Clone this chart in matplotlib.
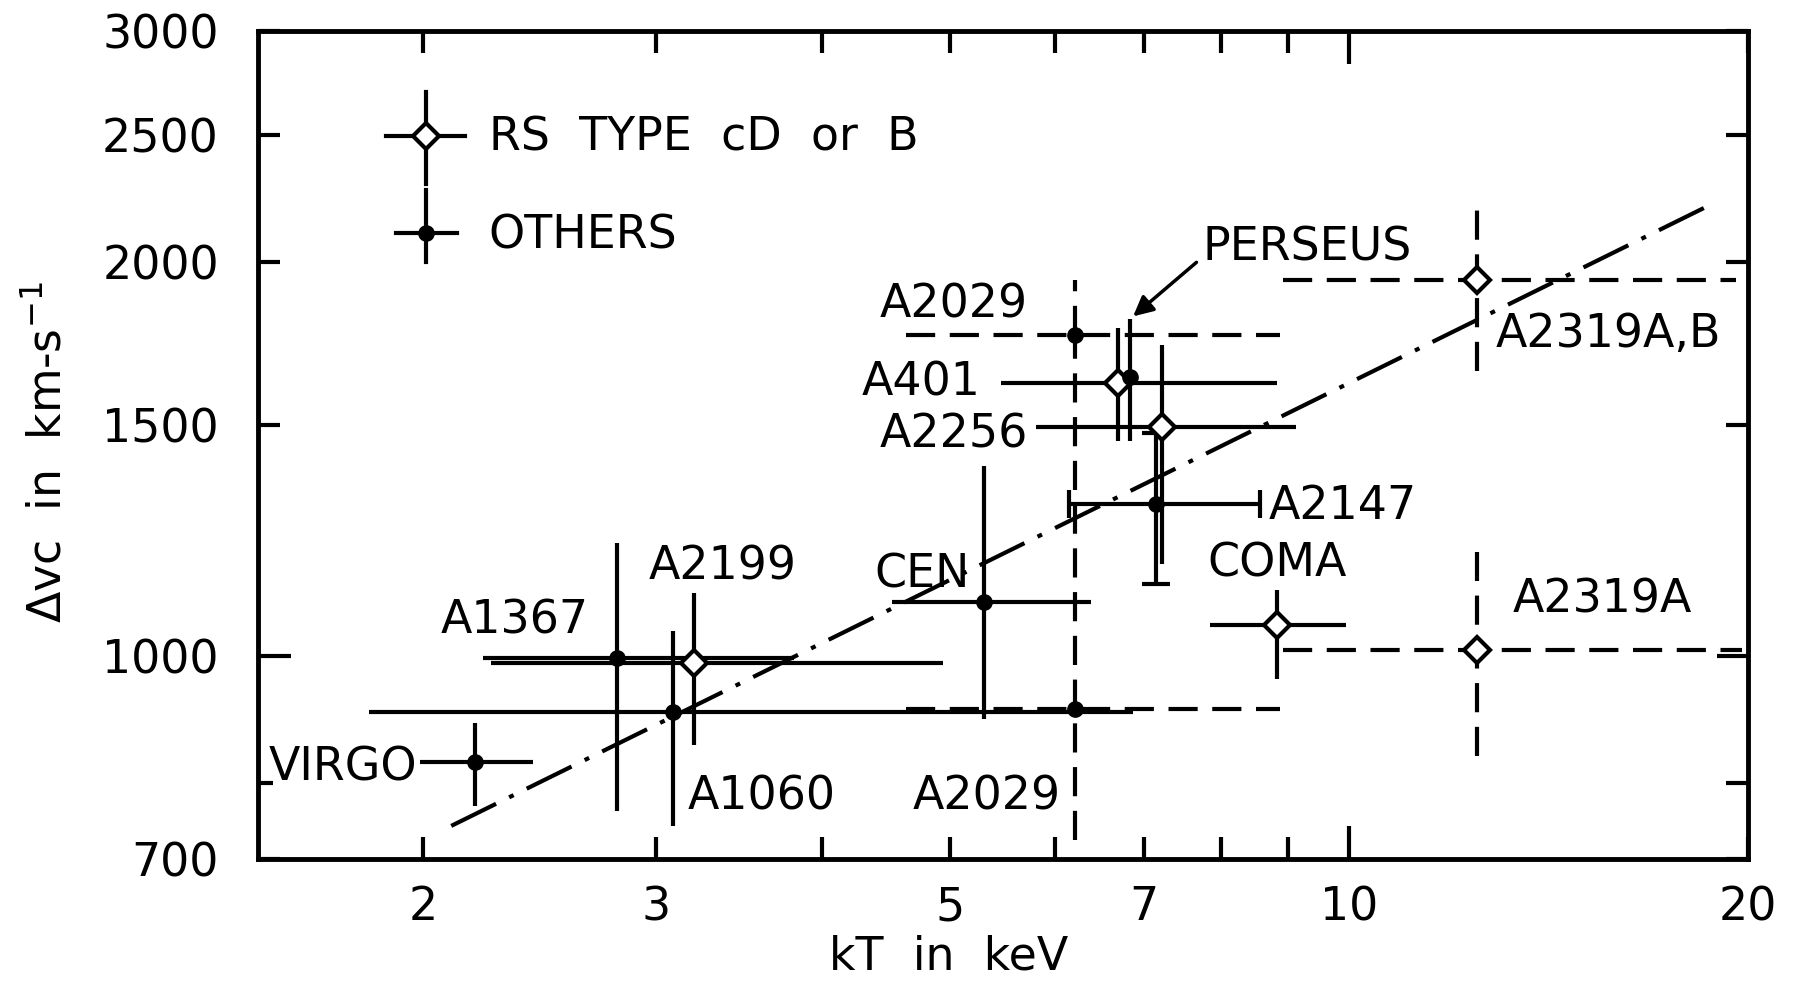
import matplotlib
matplotlib.use('Agg')
from matplotlib import pyplot as plt
from matplotlib.ticker import NullLocator

plt.rcParams['font.family'] = ['DejaVu Sans']

# clusters with solid error bars
names = ['VIRGO', 'A1367', 'A2199', 'A1060', 'CEN', 'A401', 'PERSEUS', 'A2256', 'A2147', 'COMA']
kt = [2.19, 2.80, 3.20, 3.09, 5.30, 6.69, 6.83, 7.22, 7.15, 8.82]
kt_lo = [1.99, 2.22, 2.25, 1.82, 4.52, 5.46, 6.83, 5.80, 6.15, 7.85]
kt_hi = [2.42, 3.81, 4.94, 6.87, 6.38, 8.82, 6.83, 9.12, 8.56, 9.94]
dv = [830, 996, 988, 906, 1100, 1616, 1633, 1496, 1306, 1057]
dv_lo = [769, 762, 855, 742, 895, 1460, 1460, 1176, 1136, 961]
dv_hi = [889, 1220, 1118, 1046, 1397, 1780, 1809, 1727, 1480, 1123]
is_cd = [False, False, True, False, False, True, False, True, False, True]
capped = [False, False, False, False, False, False, False, False, True, False]

# clusters with two possible values (dashed bars)
dash_names = ['A2029', 'A2029', 'A2319A,B', 'A2319A']
dash_kt = [6.21, 6.21, 12.5, 12.5]
dash_dv = [1760, 912, 1938, 1011]
dash_kt_lo = [4.63, 4.63, 8.91, 8.91]
dash_kt_hi = [8.87, 8.87, 19.6, 19.8]
dash_dv_lo = [1760, 724, 1652, 839]
dash_dv_hi = [1938, 1760, 2201, 1200]
dash_cd = [False, False, True, True]

# dv ~ kT^(1/2) line
fit_kt = [2.10, 18.95]
fit_dv = [742, 2223]

xticks = [2, 3, 4, 5, 6, 7, 8, 9, 10, 20]
xticklabels = ['2', '3', '', '5', '', '7', '', '', '10', '20']
yticks = [700, 800, 1000, 1500, 2000, 2500, 3000]
yticklabels = ['700', '', '1000', '1500', '2000', '2500', '3000']

FS = 33
LW = 3

fig = plt.figure(figsize=(18.03, 9.81), dpi=100)
ax = fig.add_axes([0.1429, 0.1243, 0.8265, 0.844])
ax.set_xscale('log')
ax.set_yscale('log')
ax.set_xlim(1.5, 20)
ax.set_ylim(700, 3000)

# fit line
ax.plot(fit_kt, fit_dv, color='black', lw=LW, ls=(0, (12, 3.5, 1.2, 3.5)), zorder=1)

# solid error bars
for i in range(len(names)):
    xerr = [[kt[i] - kt_lo[i]], [kt_hi[i] - kt[i]]]
    yerr = [[dv[i] - dv_lo[i]], [dv_hi[i] - dv[i]]]
    ax.errorbar([kt[i]], [dv[i]], xerr=xerr, yerr=yerr, fmt='none', ecolor='black',
                elinewidth=LW, capsize=10 if capped[i] else 0, capthick=LW, zorder=2)

# dashed error bars
ax.hlines(dash_dv, dash_kt_lo, dash_kt_hi, colors='black', lw=LW,
          linestyles=(0, (7, 3.5)), zorder=2)
ax.vlines(dash_kt, dash_dv_lo, dash_dv_hi, colors='black', lw=LW,
          linestyles=(0, (7, 3.5)), zorder=2)

# markers
for x, y, cd in list(zip(kt, dv, is_cd)) + list(zip(dash_kt, dash_dv, dash_cd)):
    if cd:
        ax.plot(x, y, marker='D', ms=13, mfc='white', mec='black', mew=LW, zorder=4)
    else:
        ax.plot(x, y, marker='o', ms=11, color='black', zorder=4)

# cluster names
label_pos = {
    'VIRGO': (1.98, 822, 'right'),
    'A1367': (2.06, 1063, 'left'),
    'A2199': (2.96, 1169, 'left'),
    'A1060': (3.17, 780, 'left'),
    'CEN': (4.38, 1153, 'left'),
    'A401': (5.27, 1616, 'right'),
    'A2256': (5.72, 1475, 'right'),
    'A2147': (8.69, 1301, 'left'),
    'COMA': (7.82, 1176, 'left'),
}
for n in names:
    if n in label_pos:
        x, y, ha = label_pos[n]
        ax.text(x, y, n, fontsize=FS, ha=ha, va='center')

ax.text(5.72, 1854, 'A2029', fontsize=FS, ha='right', va='center')
ax.text(6.06, 780, 'A2029', fontsize=FS, ha='right', va='center')
ax.text(12.9, 1759, 'A2319A,B', fontsize=FS, ha='left', va='center')
ax.text(13.28, 1103, 'A2319A', fontsize=FS, ha='left', va='center')

ax.text(7.75, 2050, 'PERSEUS', fontsize=FS, ha='left', va='center')
ax.annotate('', xy=(6.87, 1817), xytext=(7.67, 1998),
            arrowprops=dict(arrowstyle='-|>', color='black', lw=2.5,
                            mutation_scale=30, shrinkA=0, shrinkB=0))

# legend
t = ax.transAxes
ax.plot([0.0864, 0.1389], [0.8736, 0.8736], color='black', lw=LW, transform=t)
ax.plot([0.1127, 0.1127], [0.815, 0.926], color='black', lw=LW, transform=t)
ax.plot(0.1127, 0.8736, marker='D', ms=13, mfc='white', mec='black', mew=LW, transform=t)
ax.text(0.155, 0.871, 'RS  TYPE  cD  or  B', fontsize=FS, va='center', transform=t)
ax.plot([0.0926, 0.1335], [0.7556, 0.7556], color='black', lw=LW, transform=t)
ax.plot([0.1127, 0.1127], [0.721, 0.808], color='black', lw=LW, transform=t)
ax.plot(0.1127, 0.7556, marker='o', ms=11, color='black', transform=t)
ax.text(0.155, 0.753, 'OTHERS', fontsize=FS, va='center', transform=t)

# axes and ticks
for s in ax.spines.values():
    s.set_linewidth(3.5)
ax.set_xticks(xticks)
ax.set_xticklabels(xticklabels)
ax.set_yticks(yticks)
ax.set_yticklabels(yticklabels)
ax.xaxis.set_minor_locator(NullLocator())
ax.yaxis.set_minor_locator(NullLocator())
ax.tick_params(which='major', direction='in', top=True, right=True,
               length=16, width=LW, labelsize=FS)
ax.tick_params(axis='x', pad=19)
ax.tick_params(axis='y', pad=28)

xt = ax.xaxis.get_major_ticks()
xt[8].tick1line.set_markersize(24)
xt[8].tick2line.set_markersize(24)
yt = ax.yaxis.get_major_ticks()
yt[1].tick1line.set_markersize(11)
yt[2].tick1line.set_markersize(24)
yt[2].tick2line.set_markersize(22)

fig.text(0.526, 0.0246, 'kT  in  keV', fontsize=FS, ha='center', va='center')
fig.text(0.027, 0.539, 'Δvc  in  km-s$^{-1}$', fontsize=FS, ha='center', va='center',
         rotation=90)

fig.savefig('out.png', dpi=100)
